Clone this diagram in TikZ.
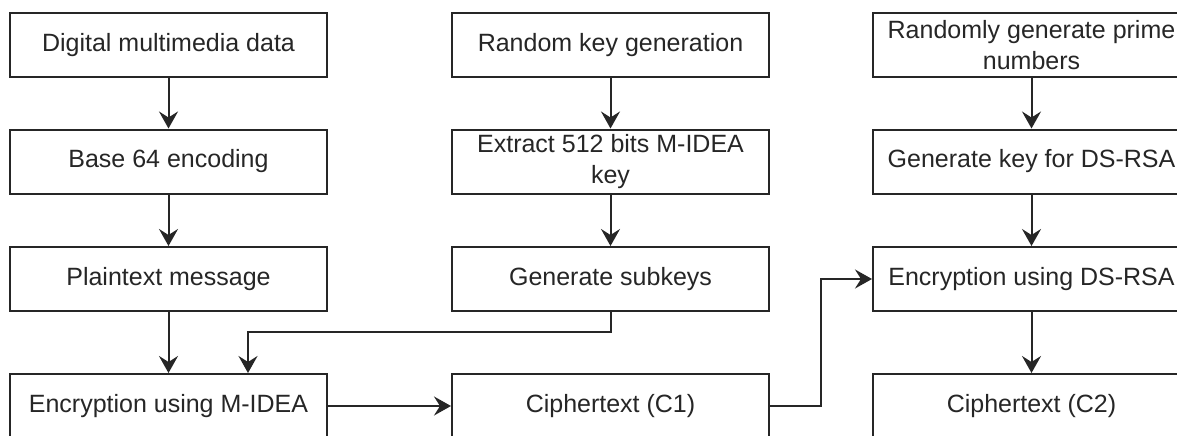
\documentclass[tikz,border=0pt]{standalone}
\usepackage{fontspec}
\setmainfont{Liberation Sans}
\usetikzlibrary{arrows.meta,calc}
\tikzset{
  procbox/.style={draw=black!85, line width=2pt, rectangle, minimum width=317pt,
    minimum height=64pt, inner sep=0pt, align=center, fill=white,
    font=\fontsize{25pt}{31pt}\selectfont, text=black!85},
  flow/.style={draw=black!85, line width=2pt,
    -{Stealth[length=17pt,width=19pt,inset=6pt]}},
}
\begin{document}
\begin{tikzpicture}[x=1pt,y=-1pt]
  \useasboundingbox (0,0) rectangle (1177,436);
  \clip (0,0) rectangle (1177,436);
  \fill[white] (0,0) rectangle (1177,436);

  % left column: data path
  \node[procbox] (a1) at (168.5,45)    {Digital multimedia data};
  \node[procbox] (a2) at (168.5,161.5) {Base 64 encoding};
  \node[procbox] (a3) at (168.5,279)   {Plaintext message};
  \node[procbox] (a4) at (168.5,406)   {Encryption using M-IDEA};

  % middle column: M-IDEA key
  \node[procbox] (b1) at (610.5,45)    {Random key generation};
  \node[procbox] (b2) at (610.5,161.5) {Extract 512 bits M-IDEA\\key};
  \node[procbox] (b3) at (610.5,279)   {Generate subkeys};
  \node[procbox] (b4) at (610.5,406)   {Ciphertext (C1)};

  % right column: DS-RSA
  \node[procbox] (c1) at (1031.5,45)    {Randomly generate prime\\numbers};
  \node[procbox] (c2) at (1031.5,161.5) {Generate key for DS-RSA};
  \node[procbox] (c3) at (1031.5,279)   {Encryption using DS-RSA};
  \node[procbox] (c4) at (1031.5,406)   {Ciphertext (C2)};

  % vertical flows
  \draw[flow] (a1) -- (a2);
  \draw[flow] (a2) -- (a3);
  \draw[flow] (a3) -- (a4);
  \draw[flow] (b1) -- (b2);
  \draw[flow] (b2) -- (b3);
  \draw[flow] (c1) -- (c2);
  \draw[flow] (c2) -- (c3);
  \draw[flow] (c3) -- (c4);

  % subkeys into M-IDEA encryption
  \coordinate (sk) at (248,332);
  \draw[flow] (b3.south) |- (sk) -- (sk |- a4.north);

  % ciphertext C1 chain
  \draw[flow] (a4.east) -- (b4.west);
  \coordinate (cj) at (821,406);
  \draw[flow] (b4.east) -- (cj) |- (c3.west);
\end{tikzpicture}
\end{document}
